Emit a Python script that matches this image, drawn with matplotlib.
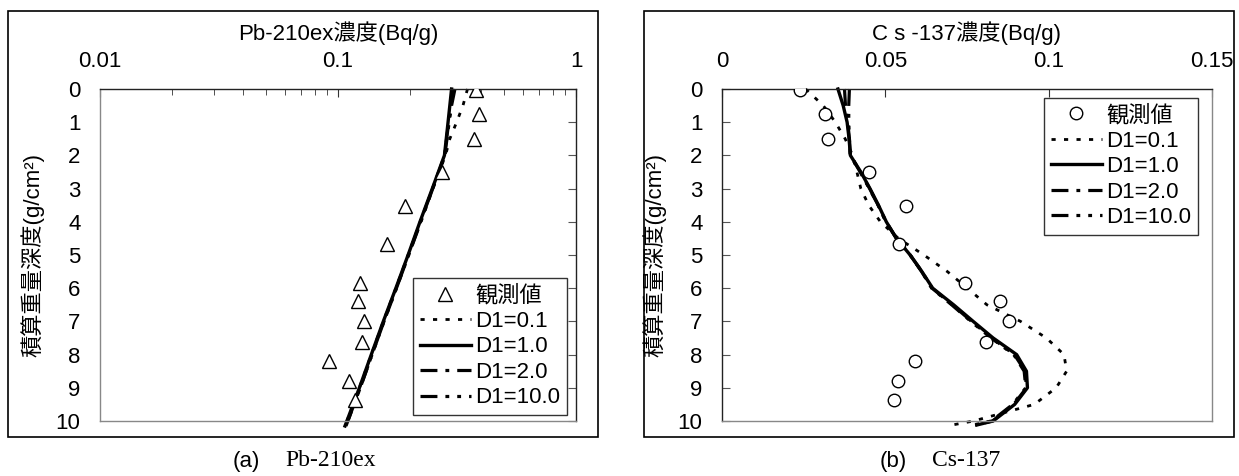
import numpy as np
import matplotlib
matplotlib.use('Agg')
import matplotlib.pyplot as plt
from matplotlib.patches import Rectangle

plt.rcParams['font.family'] = ['Liberation Sans', 'Noto Sans CJK JP', 'DejaVu Sans']

# observed points (depth g/cm2)
depth_obs = [0.02, 0.76, 1.5, 2.5, 3.52, 4.67, 5.84, 6.4, 6.99, 7.62, 8.2, 8.8, 9.38]
pb_obs = [0.38, 0.393, 0.374, 0.273, 0.192, 0.161, 0.124, 0.121, 0.128, 0.126, 0.092, 0.111, 0.118]
cs_obs = [0.0238, 0.0316, 0.0326, 0.0449, 0.0564, 0.0542, 0.0745, 0.0851, 0.0878, 0.0808, 0.0592, 0.054, 0.0525]

# model curves Pb-210ex
depth_pb = [0, 0.5, 1, 1.5, 2, 3, 4, 5, 6, 7, 8, 9, 10, 10.15]
pb_d01 = [0.35, 0.335, 0.315, 0.295, 0.283, 0.25, 0.222, 0.197, 0.175, 0.155, 0.138, 0.123, 0.109, 0.107]
pb_d10 = [0.300, 0.295, 0.29, 0.285, 0.280, 0.249, 0.221, 0.197, 0.175, 0.155, 0.138, 0.123, 0.109, 0.107]
pb_d20 = [0.305, 0.298, 0.292, 0.286, 0.281, 0.250, 0.222, 0.198, 0.176, 0.156, 0.139, 0.124, 0.110, 0.108]
pb_d100 = [0.31, 0.30, 0.293, 0.287, 0.281, 0.250, 0.223, 0.198, 0.176, 0.156, 0.139, 0.124, 0.110, 0.108]

# model curves Cs-137
depth_cs = [0, 0.5, 1, 1.5, 2, 2.5, 3, 3.5, 4, 4.5, 5, 5.5, 6, 6.5, 7, 7.5, 8, 8.5, 9, 9.5, 10, 10.12]
cs_d01 = [0.0256, 0.031, 0.0347, 0.0377, 0.040, 0.0413, 0.0425, 0.0449, 0.0485, 0.054, 0.0618, 0.069,
          0.0751, 0.0811, 0.0914, 0.0993, 0.1047, 0.1055, 0.1023, 0.0956, 0.077, 0.0705]
cs_d10 = [0.0355, 0.0371, 0.0383, 0.0389, 0.0393, 0.0425, 0.0453, 0.0479, 0.0503, 0.0534, 0.0576, 0.0612,
          0.0645, 0.0709, 0.0769, 0.083, 0.0902, 0.0932, 0.0935, 0.0896, 0.083, 0.078]
cs_d20 = [0.0375, 0.0378, 0.0385, 0.039, 0.0393, 0.0423, 0.0451, 0.0478, 0.0502, 0.0534, 0.0576, 0.0612,
          0.0643, 0.0705, 0.0764, 0.0826, 0.0895, 0.0928, 0.0932, 0.0893, 0.0828, 0.0775]
cs_d100 = [0.039, 0.0388, 0.0388, 0.039, 0.0393, 0.0424, 0.0452, 0.0478, 0.0502, 0.0534, 0.0576, 0.0611,
           0.0642, 0.0703, 0.0762, 0.0824, 0.0893, 0.0925, 0.093, 0.089, 0.0825, 0.077]

labels = ['観測値', 'D1=0.1', 'D1=1.0', 'D1=2.0', 'D1=10.0']
styles = [(0, (1.5, 3)), '-', (0, (5.3, 2.5, 1.2, 2.5)), (0, (5.3, 2.5, 1.2, 2.5, 1.2, 2.5))]
widths = [2.0, 2.4, 2.3, 2.3]

W, H = 1239, 476
fig = plt.figure(figsize=(W / 100, H / 100), dpi=100)

# panel frames
for x0, x1 in [(8, 598), (644, 1234)]:
    fig.patches.append(Rectangle((x0 / W, 1 - 437 / H), (x1 - x0) / W, (437 - 11) / H,
                                 transform=fig.transFigure, fill=False, ec='black', lw=1.2))

ax1 = fig.add_axes([100 / W, 1 - 421 / H, 476 / W, 332 / H])
ax2 = fig.add_axes([722 / W, 1 - 421 / H, 490 / W, 332 / H])

fs = 16

# (a) Pb-210ex
ax1.set_xscale('log')
ax1.plot(pb_obs, depth_obs, linestyle='none', marker='^', ms=10, mfc='white', mec='black', mew=1.0,
         label=labels[0], zorder=4)
for vals, ls, lw, lab in zip([pb_d01, pb_d10, pb_d20, pb_d100], styles, widths, labels[1:]):
    ax1.plot(vals, depth_pb, color='black', linestyle=ls, lw=lw, label=lab, clip_on=False)
ax1.set_xlim(0.01, 1)
ax1.set_xticks([0.01, 0.1, 1])
ax1.set_xticklabels(['0.01', '0.1', '1'])

# (b) Cs-137
ax2.plot(cs_obs, depth_obs, linestyle='none', marker='o', ms=9, mfc='white', mec='black', mew=1.0,
         label=labels[0], zorder=4)
for vals, ls, lw, lab in zip([cs_d01, cs_d10, cs_d20, cs_d100], styles, widths, labels[1:]):
    ax2.plot(vals, depth_cs, color='black', linestyle=ls, lw=lw, label=lab, clip_on=False)
ax2.set_xlim(0, 0.15)
ax2.set_xticks([0, 0.05, 0.1, 0.15])
ax2.set_xticklabels(['0', '0.05', '0.1', '0.15'])

for ax, xlab in [(ax1, 'Pb-210ex濃度(Bq/g)'), (ax2, 'C s -137濃度(Bq/g)')]:
    ax.set_ylim(10, 0)
    ax.set_yticks(range(0, 11))
    ax.xaxis.set_ticks_position('top')
    ax.xaxis.set_label_position('top')
    ax.set_xlabel(xlab, fontsize=fs, labelpad=8)
    ax.set_ylabel('積算重量深度(g/cm²)', fontsize=fs, labelpad=8)
    ax.tick_params(axis='x', which='major', direction='in', length=6, pad=12, labelsize=fs, color='#333333')
    ax.tick_params(axis='x', which='minor', direction='in', length=4, color='#333333')
    for s in ax.spines.values():
        s.set_color('#888888')
        s.set_linewidth(1.0)
    ax.spines['top'].set_color('#222222')

# left panel: y ticks drawn on right spine, labels left
ax1.tick_params(axis='y', direction='in', length=6, pad=14, labelsize=fs, left=False, right=True,
                labelleft=True, labelright=False, color='#555555')
ax1.spines['right'].set_color('#222222')
ax2.tick_params(axis='y', direction='in', length=6, pad=14, labelsize=fs, left=True, right=False,
                color='#555555')
ax2.spines['left'].set_color('#222222')

leg_kw = dict(fontsize=fs, frameon=True, fancybox=False, framealpha=1, edgecolor='#333333',
              borderaxespad=0, handlelength=2.3, labelspacing=0.2, handletextpad=0.2,
              borderpad=0.3, markerfirst=True)
l1 = ax1.legend(loc='lower right', bbox_to_anchor=(0.981, 0.018), **leg_kw)
l2 = ax2.legend(loc='upper right', bbox_to_anchor=(0.971, 0.973), **leg_kw)
for lg in (l1, l2):
    lg.get_frame().set_linewidth(1.0)

# captions
fig.text(246 / W, 1 - 461 / H, '(a)', ha='center', va='center', fontsize=16)
fig.text(285 / W, 1 - 461 / H, 'Pb-210ex', ha='left', va='center', fontsize=17, family='Liberation Serif')
fig.text(893 / W, 1 - 461 / H, '(b)', ha='center', va='center', fontsize=16)
fig.text(932 / W, 1 - 461 / H, 'Cs-137', ha='left', va='center', fontsize=17, family='Liberation Serif')

fig.savefig('out.png', dpi=100)
